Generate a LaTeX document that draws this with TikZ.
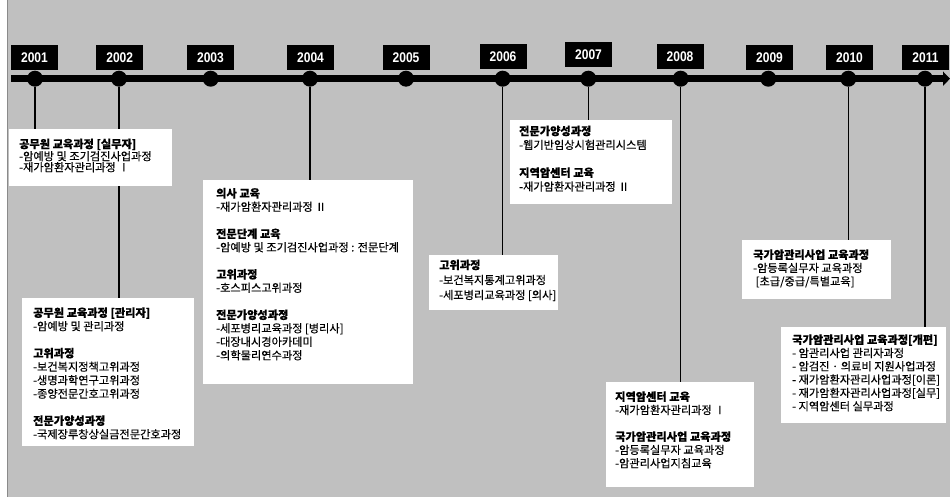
\documentclass[tikz,border=0pt]{standalone}
\usepackage{fontspec}
\usepackage{graphicx}
\setmainfont{Liberation Sans}
\newfontfamily\kr[FakeBold=0.3]{Noto Sans CJK KR}
\usetikzlibrary{arrows.meta}
\pgfdeclarelayer{bgfill}
\pgfdeclarelayer{background}
\pgfsetlayers{bgfill,background,main}
\definecolor{panelgray}{HTML}{C0C0C0}
\definecolor{edgegray}{HTML}{8A8A8A}
\newcommand{\yrtxt}[1]{\scalebox{0.86}[1]{#1}}
\begin{document}
\begin{tikzpicture}[x=1pt,y=-1pt,
  yearbox/.style={fill=black,text=white,minimum width=47pt,minimum height=25pt,inner sep=0pt,font=\bfseries\fontsize{14}{14}\selectfont},
  tldot/.style={circle,fill=black,minimum size=16pt,inner sep=0pt},
  infobox/.style={fill=white,anchor=north west,inner sep=0pt},
  infotext/.style={anchor=north west,inner sep=0pt,align=left,text=black,font=\kr\fontsize{11.2}{13.5}\selectfont},
  stem/.style={line width=1.3pt,black}
]
\useasboundingbox (0,0) rectangle (950,497);
\begin{pgfonlayer}{bgfill}
\fill[white] (0,0) rectangle (950,497);
\fill[panelgray] (7,0) rectangle (950,497);
\draw[edgegray,line width=1pt] (7,0) -- (7,497);
\end{pgfonlayer}

% timeline
\coordinate (tl0) at (11,78.7);
\coordinate (tl1) at (950,78.7);
\begin{pgfonlayer}{background}
\draw[line width=7pt,-{Triangle[length=7pt,width=14pt]}] (tl0) -- (tl1);
\end{pgfonlayer}

% dots
\node[tldot] (d2001) at (35,78.7) {};
\node[tldot] (d2002) at (119,78.7) {};
\node[tldot] (d2003) at (210.7,78.7) {};
\node[tldot] (d2004) at (310,78.7) {};
\node[tldot] (d2005) at (406,78.7) {};
\node[tldot] (d2006) at (502.7,78.7) {};
\node[tldot] (d2007) at (588.3,78.7) {};
\node[tldot] (d2008) at (680.7,78.7) {};
\node[tldot] (d2009) at (768.3,78.7) {};
\node[tldot] (d2010) at (848.3,78.7) {};
\node[tldot] (d2011) at (925,78.7) {};

% year labels
\node[yearbox] (y2001) at (34.5,57.5) {\yrtxt{2001}};
\node[yearbox] (y2002) at (119.7,57.5) {\yrtxt{2002}};
\node[yearbox] (y2003) at (210.5,57.5) {\yrtxt{2003}};
\node[yearbox] (y2004) at (310.5,57.5) {\yrtxt{2004}};
\node[yearbox] (y2005) at (406,57.5) {\yrtxt{2005}};
\node[yearbox] (y2006) at (503,56.5) {\yrtxt{2006}};
\node[yearbox] (y2007) at (588.5,55) {\yrtxt{2007}};
\node[yearbox] (y2008) at (680,56.5) {\yrtxt{2008}};
\node[yearbox] (y2009) at (769.5,57.5) {\yrtxt{2009}};
\node[yearbox] (y2010) at (849.5,57.5) {\yrtxt{2010}};
\node[yearbox] (y2011) at (925.5,57.5) {\yrtxt{2011}};

% info boxes
\node[infobox,minimum width=163pt,minimum height=57pt] (b1) at (9,129) {};
\node[infobox,minimum width=172pt,minimum height=148pt] (b2) at (22,298) {};
\node[infobox,minimum width=210pt,minimum height=204pt] (b3) at (203,180) {};
\node[infobox,minimum width=129pt,minimum height=55pt] (b4) at (429,255) {};
\node[infobox,minimum width=162pt,minimum height=84pt] (b5) at (510,120) {};
\node[infobox,minimum width=148pt,minimum height=105pt] (b6) at (606,382) {};
\node[infobox,minimum width=149pt,minimum height=59pt] (b7) at (742,240) {};
\node[infobox,minimum width=165pt,minimum height=96pt] (b8) at (781,327) {};

% stems
\begin{pgfonlayer}{background}
\draw[stem] (d2001) -- (d2001 |- b1.north);
\draw[stem] (d2002) -- (d2002 |- b2.north);
\draw[stem] (d2004) -- (d2004 |- b3.north);
\draw[stem] (d2006) -- (d2006 |- b4.north);
\draw[stem] (d2007) -- (d2007 |- b5.north);
\draw[stem] (d2008) -- (d2008 |- b6.north);
\draw[stem] (d2010) -- (d2010 |- b7.north);
\draw[stem] (d2011) -- (d2011 |- b8.north);
\end{pgfonlayer}

% texts
\node[infotext,font=\kr\fontsize{11.2}{11}\selectfont] (t1) at (19,138.5) {\textbf{공무원 교육과정 [실무자]}\\-암예방 및 조기검진사업과정\\-재가암환자관리과정 Ⅰ};
\node[infotext] (t2) at (33,307.2) {\textbf{공무원 교육과정 [관리자]}\\-암예방 및 관리과정\\[13.5pt]\textbf{고위과정}\\-보건복지정책고위과정\\-생명과학연구고위과정\\-종양전문간호고위과정\\[13.5pt]\textbf{전문가양성과정}\\-국제장루창상실금전문간호과정};
\node[infotext] (t3) at (216,187.8) {\textbf{의사 교육}\\-재가암환자관리과정 Ⅱ\\[13.5pt]\textbf{전문단계 교육}\\-암예방 및 조기검진사업과정 : 전문단계\\[13.5pt]\textbf{고위과정}\\-호스피스고위과정\\[13.5pt]\textbf{전문가양성과정}\\-세포병리교육과정 [병리사]\\-대장내시경아카데미\\-의학물리연수과정};
\node[infotext,font=\kr\fontsize{11.2}{15}\selectfont] (t4) at (439,259.5) {\textbf{고위과정}\\-보건복지통계고위과정\\-세포병리교육과정 [의사]};
\node[infotext,font=\kr\fontsize{11.2}{13.9}\selectfont] (t5) at (519,125.5) {\textbf{전문가양성과정}\\-웹기반임상시험관리시스템\\[13.9pt]\textbf{지역암센터 교육}\\-재가암환자관리과정 Ⅱ};
\node[infotext,font=\kr\fontsize{11.2}{13.3}\selectfont] (t6) at (615,391.2) {\textbf{지역암센터 교육}\\-재가암환자관리과정 Ⅰ\\[13.3pt]\textbf{국가암관리사업 교육과정}\\-암등록실무자 교육과정\\-암관리사업지침교육};
\node[infotext,font=\kr\fontsize{11.2}{13.3}\selectfont] (t7) at (753,249.2) {\textbf{국가암관리사업 교육과정}\\-암등록실무자 교육과정\\\ [초급/중급/특별교육]};
\node[infotext,font=\kr\fontsize{11.2}{13.3}\selectfont] (t8) at (792,334.2) {\textbf{국가암관리사업 교육과정[개편]}\\- 암관리사업 관리자과정\\- 암검진 · 의료비 지원사업과정\\- 재가암환자관리사업과정[이론]\\- 재가암환자관리사업과정[실무]\\- 지역암센터 실무과정};
\end{tikzpicture}
\end{document}
